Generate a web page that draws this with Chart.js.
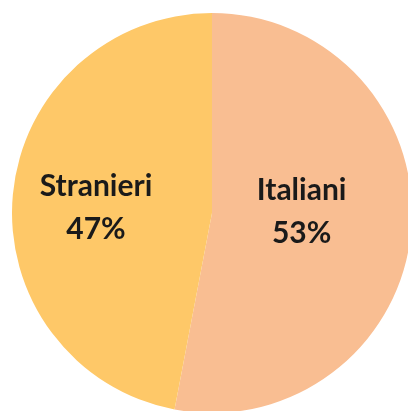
<!DOCTYPE html>
<html>
<head>
<meta charset="utf-8">
<script src="https://cdn.jsdelivr.net/npm/chart.js@4"></script>
<style>
    html, body { margin: 0; padding: 0; background: #fff; overflow: hidden; }
    body { width: 408px; height: 411px; position: relative; }
    #wrap { position: absolute; left: 12px; top: 13px; width: 400px; height: 400px; }
</style>
</head>
<body>
<div id="wrap"><canvas id="pieChart"></canvas></div>
<script>
const labels = ['Italiani', 'Stranieri'];
const values = [53, 47];
const colors = ['#F9BE92', '#FEC868'];

// draws "Label\nNN%" inside each slice, offset from the centre as a fraction of the radius
const sliceLabels = {
    id: 'sliceLabels',
    afterDatasetsDraw(chart, args, opts) {
        const ctx = chart.ctx;
        const meta = chart.getDatasetMeta(0);
        ctx.save();
        ctx.fillStyle = '#1a1a1a';
        ctx.font = 'bold 30px Lato, "Open Sans", sans-serif';
        ctx.textAlign = 'center';
        ctx.textBaseline = 'middle';
        meta.data.forEach((arc, i) => {
            const x = arc.x + arc.outerRadius * opts.offset[i][0];
            const y = arc.y + arc.outerRadius * opts.offset[i][1];
            ctx.fillText(labels[i], x, y - 21);
            ctx.fillText(values[i] + '%', x, y + 22);
        });
        ctx.restore();
    }
};

new Chart(document.getElementById('pieChart'), {
    type: 'pie',
    data: {
        labels,
        datasets: [{ data: values, backgroundColor: colors, borderWidth: 0 }]
    },
    options: {
        responsive: true,
        maintainAspectRatio: false,
        animation: false,
        layout: { padding: 0 },
        plugins: {
            legend: { display: false },
            tooltip: { enabled: false },
            sliceLabels: { offset: [[0.448, -0.01], [-0.58, -0.028]] }
        }
    },
    plugins: [sliceLabels]
});
</script>
</body>
</html>
